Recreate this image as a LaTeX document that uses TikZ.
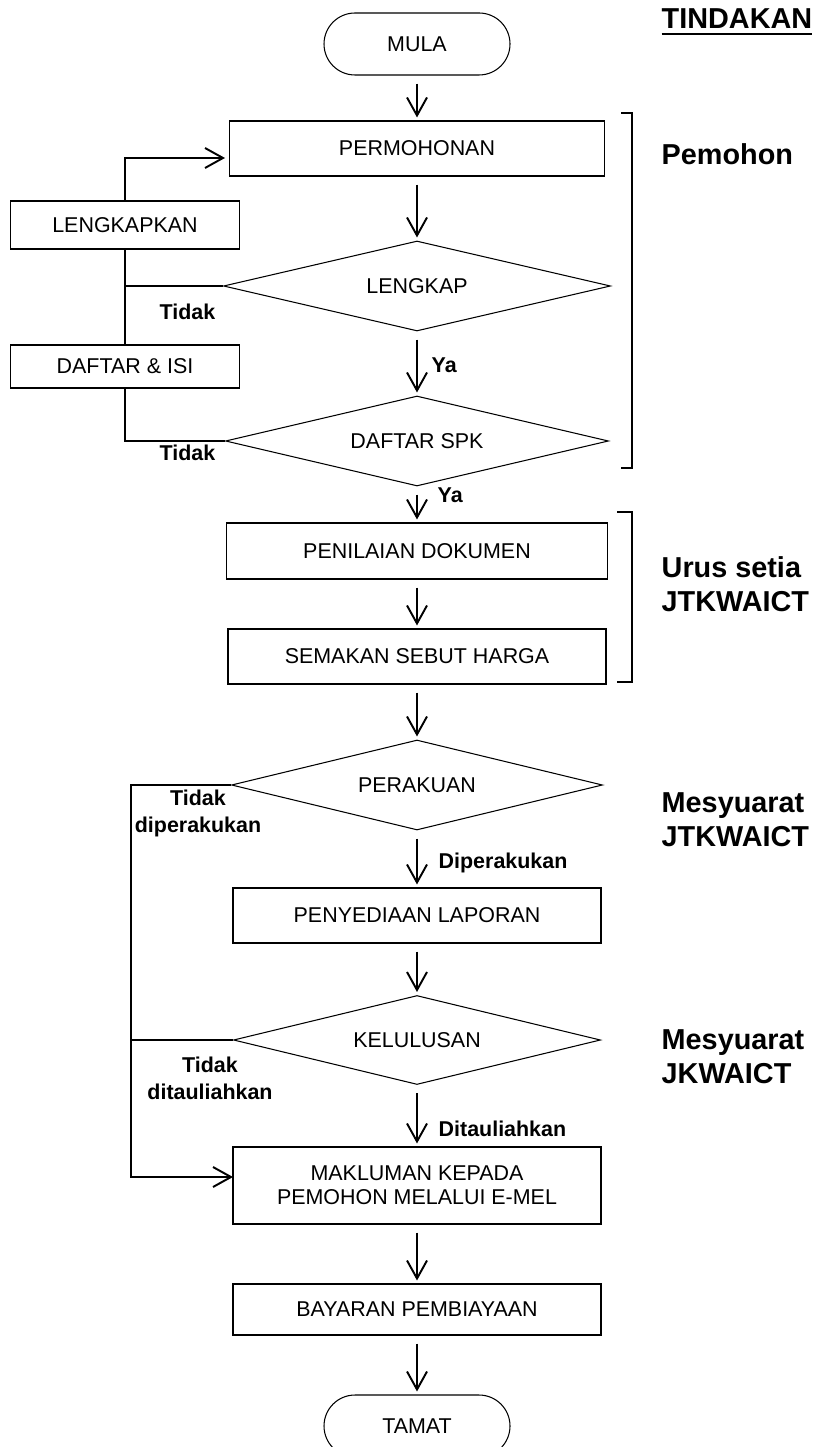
\documentclass[tikz,border=0pt]{standalone}
\usepackage{fontspec}
\setmainfont{Liberation Sans}
\usetikzlibrary{shapes.geometric, arrows.meta}

\begin{document}
\begin{tikzpicture}[
  box/.style={rectangle, draw=black, line width=0.3pt, inner sep=0pt, align=center, font=\fontsize{6.1}{6.8}\selectfont},
  term/.style={rectangle, rounded corners=3.1mm, draw=black, line width=0.3pt, minimum width=18.6mm, minimum height=6.2mm, font=\fontsize{6.1}{6.8}\selectfont},
  dec/.style={diamond, aspect=4.3, draw=black, line width=0.3pt, inner sep=0pt, font=\fontsize{6.1}{6.8}\selectfont},
  lbl/.style={inner sep=0pt, align=center, font=\bfseries\fontsize{6.1}{7.7}\selectfont},
  who/.style={inner sep=0pt, align=left, anchor=west, font=\bfseries\fontsize{8.2}{9.7}\selectfont},
  e/.style={line width=0.55pt, draw=black},
  a/.style={e, -{Straight Barb[length=1.8mm, width=2mm]}, shorten <=0.8mm, shorten >=0.3mm}
]

% (page size of the scan, bottom terminal runs off the edge)
\clip (0,0) rectangle (8.14,-14.47);
\useasboundingbox (0,0) rectangle (8.14,-14.47);

% --- Main column ---
\node[term] (mula) at (4.17,-0.44) {MULA};
\node[box, minimum width=37.5mm, minimum height=5.5mm] (permohonan) at (4.17,-1.485) {PERMOHONAN};
\node[dec, minimum width=38.7mm, minimum height=9mm] (lengkap) at (4.17,-2.86) {LENGKAP};
\node[dec, minimum width=38.3mm, minimum height=9mm] (daftarspk) at (4.17,-4.41) {DAFTAR SPK};
\node[box, minimum width=38.1mm, minimum height=5.6mm] (penilaian) at (4.17,-5.51) {PENILAIAN DOKUMEN};
\node[box, minimum width=37.8mm, minimum height=5.5mm] (semakan) at (4.17,-6.565) {SEMAKAN SEBUT HARGA};
\node[dec, minimum width=37.1mm, minimum height=9mm] (perakuan) at (4.17,-7.85) {PERAKUAN};
\node[box, minimum width=36.8mm, minimum height=5.5mm] (penyediaan) at (4.17,-9.155) {PENYEDIAAN LAPORAN};
\node[dec, minimum width=36.7mm, minimum height=8.9mm] (kelulusan) at (4.17,-10.40) {KELULUSAN};
\node[box, minimum width=36.8mm, minimum height=7.7mm] (makluman) at (4.17,-11.855) {MAKLUMAN KEPADA\\PEMOHON MELALUI E-MEL};
\node[box, minimum width=36.8mm, minimum height=5.1mm] (bayaran) at (4.17,-13.095) {BAYARAN PEMBIAYAAN};
\node[term] (tamat) at (4.17,-14.26) {TAMAT};

% --- Side boxes ---
\node[box, minimum width=22.9mm, minimum height=4.8mm] (lengkapkan) at (1.25,-2.25) {LENGKAPKAN};
\node[box, minimum width=22.9mm, minimum height=4.3mm] (daftarisi) at (1.25,-3.665) {DAFTAR \& ISI};

% --- Main arrows ---
\path[a] (mula) -- (permohonan);
\path[a] (permohonan) -- (lengkap);
\path[a] (lengkap) -- (daftarspk);
\path[a] (daftarspk) -- (penilaian);
\path[a] (penilaian) -- (semakan);
\path[a] (semakan) -- (perakuan);
\path[a] (perakuan) -- (penyediaan);
\path[a] (penyediaan) -- (kelulusan);
\path[a] (kelulusan) -- (makluman);
\path[a] (makluman) -- (bayaran);
\path[a] (bayaran) -- (tamat);

% --- Tidak loop (Pemohon) ---
\coordinate (back1) at (2.25,-1.58);
\path[a, shorten <=0pt, shorten >=0pt] (lengkapkan.north) |- (back1);
\path[e] (lengkapkan.south) -- (daftarisi.north);
\path[e] (lengkap.west) -- (lengkap.west -| lengkapkan.south);
\path[e] (daftarspk.west) -| (daftarisi.south);

% --- Tidak loop (mesyuarat) ---
\coordinate (rail2) at (1.31,0);
\coordinate (back2) at (2.33,-11.77);
\path[a, shorten <=0pt, shorten >=0pt] (perakuan.west) -| (rail2 |- back2) -- (back2);
\path[e] (kelulusan.west) -- (kelulusan.west -| rail2);

% --- Branch labels ---
\node[lbl] (tidak1) at (1.875,-3.12) {Tidak};
\node[lbl] (tidak2) at (1.875,-4.53) {Tidak};
\node[lbl, anchor=west] (ya1) at (4.31,-3.65) {Ya};
\node[lbl, anchor=west] (ya2) at (4.37,-4.95) {Ya};
\node[lbl] (tidak3) at (1.98,-8.135) {Tidak\\diperakukan};
\node[lbl, anchor=west] (diperakukan) at (4.38,-8.63) {Diperakukan};
\node[lbl] (tidak4) at (2.10,-10.78) {Tidak\\ditauliahkan};
\node[lbl, anchor=west] (ditauliahkan) at (4.38,-11.29) {Ditauliahkan};

% --- Who acts ---
\node[who, anchor=base west] (tindakan) at (6.61,-0.29) {\underline{TINDAKAN}};
\node[who] (pemohon) at (6.61,-1.54) {Pemohon};
\node[who] (urus) at (6.61,-5.84) {Urus setia\\JTKWAICT};
\node[who] (mesy1) at (6.61,-8.20) {Mesyuarat\\JTKWAICT};
\node[who] (mesy2) at (6.61,-10.565) {Mesyuarat\\JKWAICT};

% --- Brackets ---
\draw[line width=0.45pt] (6.21,-1.13) -- (6.32,-1.13) -- (6.32,-4.68) -- (6.21,-4.68);
\draw[line width=0.45pt] (6.17,-5.12) -- (6.32,-5.12) -- (6.32,-6.82) -- (6.17,-6.82);

\end{tikzpicture}
\end{document}
